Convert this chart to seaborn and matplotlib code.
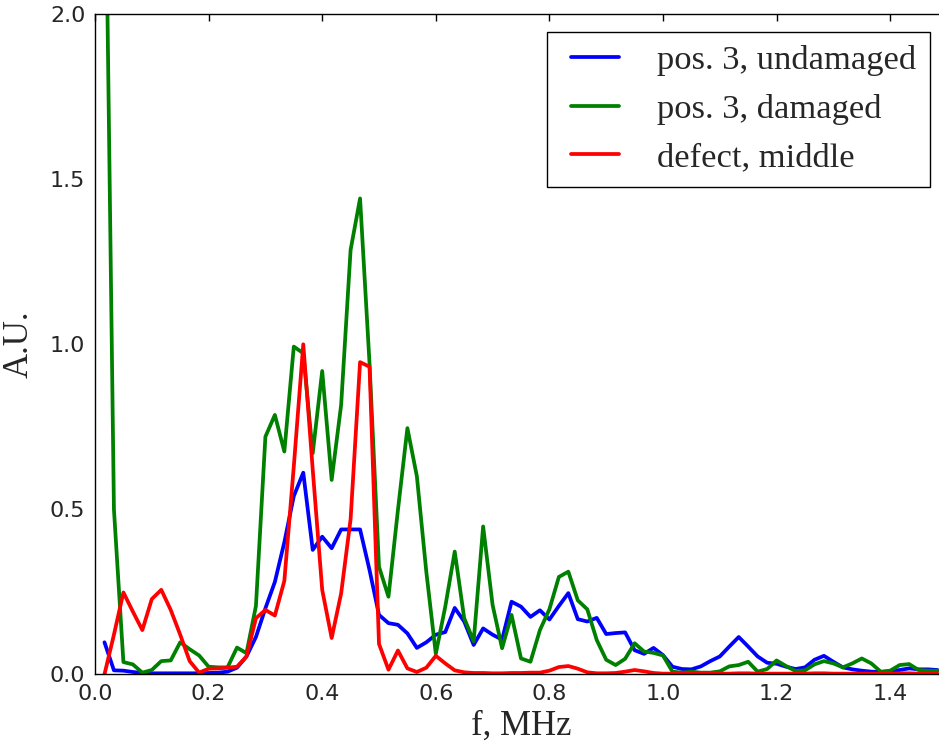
import numpy as np
import pandas as pd
import matplotlib
matplotlib.use("Agg")
import matplotlib.pyplot as plt
import seaborn as sns

# frequency grid (MHz)
freq_mhz = np.round(np.arange(1, 90) / 60.0, 5)

series_names = ["pos. 3, undamaged", "pos. 3, damaged", "defect, middle"]
series_colors = ["#0000ff", "#008000", "#ff0000"]

undamaged = [
    0.097, 0.012, 0.011, 0.007, 0.004, 0.003, 0.003, 0.003, 0.003, 0.003,
    0.003, 0.004, 0.005, 0.008, 0.020, 0.054, 0.113, 0.200, 0.280, 0.400,
    0.540, 0.611, 0.377, 0.417, 0.382, 0.439, 0.439, 0.439, 0.316, 0.180,
    0.155, 0.150, 0.124, 0.080, 0.097, 0.120, 0.128, 0.201, 0.160, 0.089,
    0.139, 0.120, 0.105, 0.220, 0.205, 0.174, 0.194, 0.166, 0.207, 0.246,
    0.167, 0.160, 0.171, 0.122, 0.125, 0.127, 0.073, 0.062, 0.080, 0.058,
    0.023, 0.016, 0.015, 0.024, 0.040, 0.054, 0.084, 0.113, 0.084, 0.054,
    0.035, 0.032, 0.023, 0.016, 0.021, 0.044, 0.056, 0.038, 0.021, 0.015,
    0.011, 0.008, 0.007, 0.008, 0.013, 0.018, 0.015, 0.015, 0.013,
]

damaged = [
    2.700, 0.500, 0.037, 0.030, 0.005, 0.013, 0.040, 0.042, 0.097, 0.076,
    0.057, 0.023, 0.021, 0.021, 0.081, 0.064, 0.207, 0.720, 0.786, 0.675,
    0.993, 0.973, 0.670, 0.919, 0.589, 0.816, 1.286, 1.442, 0.942, 0.326,
    0.235, 0.498, 0.746, 0.600, 0.310, 0.062, 0.205, 0.372, 0.170, 0.100,
    0.448, 0.210, 0.079, 0.180, 0.048, 0.038, 0.134, 0.197, 0.295, 0.311,
    0.224, 0.197, 0.104, 0.044, 0.028, 0.047, 0.094, 0.069, 0.065, 0.057,
    0.008, 0.005, 0.008, 0.005, 0.005, 0.009, 0.024, 0.028, 0.038, 0.008,
    0.016, 0.042, 0.025, 0.010, 0.012, 0.030, 0.040, 0.033, 0.021, 0.033,
    0.048, 0.033, 0.008, 0.011, 0.028, 0.031, 0.013, 0.011, 0.011,
]

defect_middle = [
    0.000, 0.120, 0.248, 0.190, 0.134, 0.228, 0.256, 0.195, 0.120, 0.040,
    0.005, 0.017, 0.018, 0.020, 0.023, 0.054, 0.170, 0.195, 0.178, 0.283,
    0.630, 1.000, 0.620, 0.256, 0.110, 0.245, 0.470, 0.946, 0.932, 0.092,
    0.014, 0.072, 0.018, 0.007, 0.020, 0.056, 0.033, 0.012, 0.006, 0.004,
    0.004, 0.003, 0.003, 0.004, 0.004, 0.005, 0.005, 0.011, 0.022, 0.025,
    0.017, 0.006, 0.003, 0.003, 0.004, 0.008, 0.013, 0.009, 0.004, 0.002,
    0.002, 0.002, 0.002, 0.002, 0.002, 0.002, 0.002, 0.003, 0.003, 0.002,
    0.002, 0.002, 0.002, 0.002, 0.002, 0.003, 0.003, 0.002, 0.002, 0.002,
    0.002, 0.002, 0.002, 0.002, 0.003, 0.003, 0.002, 0.002, 0.002,
]

x_ticks = [0.0, 0.2, 0.4, 0.6, 0.8, 1.0, 1.2, 1.4]
y_ticks = [0.0, 0.5, 1.0, 1.5, 2.0]

df = pd.concat([
    pd.DataFrame({"f": freq_mhz, "val": vals, "series": name})
    for name, vals in zip(series_names, [undamaged, damaged, defect_middle])
], ignore_index=True)

sns.set_style("white")
plt.rcParams.update({
    "font.family": ["DejaVu Sans"],
    "xtick.direction": "in",
    "ytick.direction": "in",
    "xtick.top": True,
    "ytick.right": True,
    "axes.linewidth": 1.0,
})

W, H = 939, 746
fig = plt.figure(figsize=(W / 100, H / 100), dpi=100)
fig.patch.set_facecolor("white")
left, right, top, bottom = 95, 947, 14.3, 674.3
ax = fig.add_axes([left / W, (H - bottom) / H, (right - left) / W, (bottom - top) / H])

sns.lineplot(data=df, x="f", y="val", hue="series", hue_order=series_names,
             palette=dict(zip(series_names, series_colors)), linewidth=2.7,
             ax=ax, legend=True, sort=False, estimator=None)

ax.set_xlim(0, 1.5)
ax.set_ylim(0, 2.0)
ax.set_xticks(x_ticks)
ax.set_xticklabels([f"{t:.1f}" for t in x_ticks])
ax.set_yticks(y_ticks)
ax.set_yticklabels([f"{t:.1f}" for t in y_ticks])
ax.tick_params(axis="both", which="major", labelsize=16, length=5, width=1,
               color="black", direction="in", top=True, right=True)
ax.tick_params(axis="x", pad=7)
ax.tick_params(axis="y", pad=7)
for s in ax.spines.values():
    s.set_color("black")
    s.set_linewidth(1.0)

serif = ["Liberation Serif", "DejaVu Serif"]
ax.set_xlabel("f, MHz", family=serif, fontsize=25, labelpad=4)
ax.set_ylabel("A.U.", family=serif, fontsize=25, labelpad=10)

handles, labels = ax.get_legend_handles_labels()
leg = ax.legend(handles, labels, loc="upper right", prop={"family": serif, "size": 24.8},
                frameon=True, fancybox=False, framealpha=1, edgecolor="black",
                borderaxespad=0.5, borderpad=0.4, handlelength=2.0, numpoints=2,
                handletextpad=0.8, labelspacing=0.5)
leg.get_frame().set_linewidth(1.0)
for h in leg.get_lines():
    h.set_linewidth(2.7)

fig.savefig("out.png", dpi=100, facecolor="white")
